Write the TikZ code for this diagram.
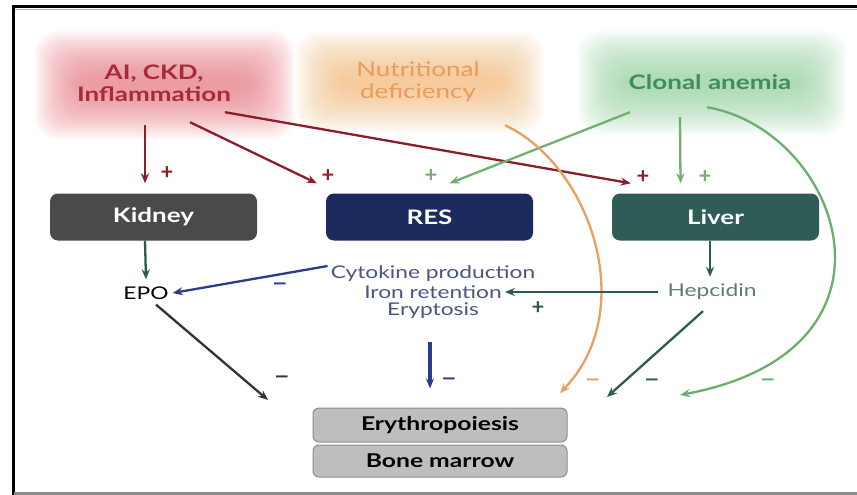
\documentclass[tikz,border=0pt]{standalone}
\usepackage{fontspec}
\setmainfont{Lato}
\usepackage{graphicx}
\usetikzlibrary{arrows.meta}
\definecolor{pinkglow}{HTML}{EC8089}
\definecolor{orangeglow}{HTML}{F6BE80}
\definecolor{greenglow}{HTML}{98D6A2}
\definecolor{redtxt}{HTML}{A82A36}
\definecolor{orangetxt}{HTML}{E99C58}
\definecolor{greentxt}{HTML}{3F8E58}
\definecolor{darkred}{HTML}{8A1F2A}
\definecolor{greenarr}{HTML}{72B072}
\definecolor{kidneyfill}{HTML}{4A4A4A}
\definecolor{resfill}{HTML}{1C2A5E}
\definecolor{liverfill}{HTML}{2F5C57}
\definecolor{tealarr}{HTML}{2E5A52}
\definecolor{navyarr}{HTML}{2B3C8C}
\definecolor{restxt}{HTML}{4A5585}
\definecolor{heptxt}{HTML}{5E7C7A}
\definecolor{marrowfill}{HTML}{BEBEBE}
\definecolor{marrowline}{HTML}{8C8C8C}
\definecolor{orangearr}{HTML}{E8A060}
\definecolor{greencurve}{HTML}{6CAE6C}
\definecolor{darkarr}{HTML}{333333}
\newcommand\sx[1]{\scalebox{1.3}[1]{#1}}
\newcommand\glowbox[5]{%
  \foreach \k in {0,2,...,46}{
    \fill[#5,opacity=0.05,rounded corners=22pt] ({#1-#3+\k},{#2-#4+\k}) rectangle ({#1+#3-\k},{#2+#4-\k});
  }}
\tikzset{
  glowtxt/.style={align=center,font=\fontsize{20}{22}\selectfont\bfseries,inner sep=0pt},
  ghost/.style={inner sep=0pt},
  organ/.style={rounded corners=8pt,minimum width=207pt,minimum height=47pt,text=white,
    font=\fontsize{20}{22}\selectfont\bfseries,inner sep=0pt},
  marrow/.style={rounded corners=6pt,draw=marrowline,fill=marrowfill,minimum width=254pt,
    font=\fontsize{19}{21}\selectfont\bfseries,inner sep=0pt,line width=1pt},
  lbl/.style={font=\fontsize{17.5}{19}\selectfont,inner sep=1pt},
  sign/.style={font=\fontsize{22}{22}\selectfont\bfseries,inner sep=0pt},
  arr/.style={line width=2.3pt,-{Stealth[length=10pt,width=8pt]}},
}
\begin{document}
\begin{tikzpicture}[x=1pt,y=-1pt]
\useasboundingbox (0,0) rectangle (857,495);
\fill[white] (0,0) rectangle (857,495);
% frame
\draw[black,line width=3pt] (13.5,7) -- (857,7);
\draw[black!30,line width=1pt] (15,9.5) -- (857,9.5);
\draw[black,line width=3pt] (13.5,5.5) -- (13.5,495);
\draw[black!45,line width=2.5pt] (13.5,493.5) -- (857,493.5);
% glows
\glowbox{165}{85}{130}{54}{pinkglow}
\glowbox{420}{82}{124}{50}{orangeglow}
\glowbox{712}{83}{134}{52}{greenglow}
\node[ghost,minimum width=236pt,minimum height=84pt] (aig) at (165,85) {};
\node[ghost,minimum width=224pt,minimum height=76pt] (nug) at (420,82) {};
\node[ghost,minimum width=244pt,minimum height=80pt] (clg) at (712,83) {};
\node[glowtxt,text=redtxt] (ai) at (154,83) {\sx{AI, CKD,}\\\sx{Inflammation}};
\node[glowtxt,text=orangetxt,font=\fontsize{20}{22}\selectfont] (nu) at (418,82) {\sx{Nutritional}\\\sx{deficiency}};
\node[glowtxt,text=greentxt] (cl) at (710,82) {\sx{Clonal anemia}};
% organs
\node[organ,fill=kidneyfill] (kidney) at (153.5,217) {\sx{Kidney}};
\node[organ,fill=resfill] (res) at (429.5,217) {\sx{RES}};
\node[organ,fill=liverfill] (liver) at (715.5,217) {\sx{Liver}};
% labels
\node[lbl,text=black] (epo) at (146,293) {\sx{EPO}};
\node[lbl,text=restxt] (cyto) at (433,274) {\sx{Cytokine production}};
\node[lbl,text=restxt] (iron) at (433,292) {\sx{Iron retention}};
\node[lbl,text=restxt] (eryp) at (433,311) {\sx{Eryptosis}};
\node[lbl,text=heptxt] (hep) at (712,292) {\sx{Hepcidin}};
% marrow
\node[marrow,minimum height=34pt] (ery) at (440,425) {\sx{Erythropoiesis}};
\node[marrow,minimum height=32pt] (bone) at (440,461) {\sx{Bone marrow}};
% free ends
\coordinate (epoend) at (268,400);
\coordinate (orend) at (560,393);
\coordinate (hepend) at (607,397);
\coordinate (grend) at (680,395);
% red arrows
\draw[arr,darkred] ([xshift=-20pt,yshift=2pt]aig.south) -- ([xshift=-8.5pt,yshift=10pt]kidney.north);
\draw[arr,darkred] ([xshift=25pt,yshift=5pt]aig.south) -- ([xshift=-9pt,yshift=10pt]res.north west);
\draw[arr,darkred] ([xshift=60pt,yshift=15pt]aig.south) -- ([xshift=19pt,yshift=10pt]liver.north west);
% green arrows
\draw[arr,greenarr] ([xshift=-82pt,yshift=11pt]clg.south) -- ([xshift=20pt,yshift=10pt]res.north);
\draw[arr,greenarr] ([xshift=-32pt,yshift=6pt]clg.south) -- ([xshift=-35pt,yshift=10pt]liver.north);
\draw[arr,greencurve] ([xshift=-5pt,yshift=16pt]clg.south) .. controls (840,130) and (920,350) .. (grend);
% orange curve
\draw[arr,orangearr] ([xshift=85pt,yshift=-5pt]nug.south) .. controls (590,165) and (640,310) .. (orend);
% organ outputs
\draw[arr,tealarr] ([xshift=-8.5pt]kidney.south) -- ([yshift=6pt]epo.north);
\draw[arr,tealarr] ([xshift=-5.5pt]liver.south) -- ([xshift=-2pt,yshift=6pt]hep.north);
\draw[arr,navyarr] ([xshift=-2pt,yshift=8pt]cyto.west) -- ([xshift=3pt]epo.east);
\draw[arr,tealarr] ([xshift=-8pt]hep.west) -- ([xshift=2pt]iron.east);
\draw[arr,darkarr] ([xshift=10pt,yshift=-4pt]epo.south) -- (epoend);
\draw[arr,navyarr,line width=3.6pt] ([xshift=-3pt,yshift=-22pt]eryp.south) -- ([xshift=-10pt,yshift=19pt]ery.north);
\draw[arr,tealarr] ([xshift=-9pt,yshift=-10pt]hep.south) -- (hepend);
% signs
\node[sign,text=darkred] (p1) at (167,173) {+};
\node[sign,text=darkred] (p2) at (328,176) {+};
\node[sign,text=greenarr] (p3) at (431,176) {+};
\node[sign,text=darkred] (p4) at (643,177) {+};
\node[sign,text=greenarr] (p5) at (705,177) {+};
\node[sign,text=tealarr] (p6) at (538,308) {+};
\node[sign,text=navyarr] (m1) at (280,287) {\sx{–}};
\node[sign,text=darkarr] (m2) at (282,380) {\sx{–}};
\node[sign,text=navyarr] (m3) at (449,382) {\sx{–}};
\node[sign,text=orangearr] (m4) at (593,383) {\sx{–}};
\node[sign,text=tealarr] (m5) at (652,383) {\sx{–}};
\node[sign,text=greencurve] (m6) at (768,383) {\sx{–}};
\end{tikzpicture}
\end{document}
